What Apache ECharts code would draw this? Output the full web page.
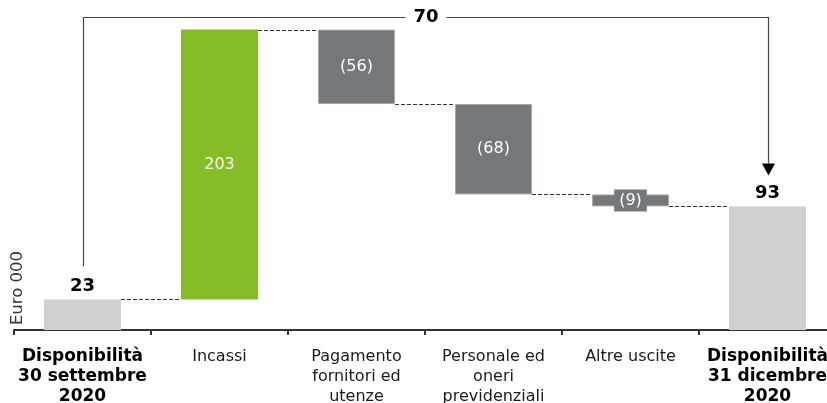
<!DOCTYPE html>
<html>
<head>
<meta charset="utf-8">
<script src="https://cdn.jsdelivr.net/npm/echarts@6/dist/echarts.min.js"></script>
<style>
  html, body { margin: 0; padding: 0; background: #ffffff; }
  #chart { width: 827px; height: 403px; }
</style>
</head>
<body>
<div id="chart"></div>
<script>
// Cash bridge, Euro 000
const categories = [
  'Disponibilità\n30 settembre\n2020',
  'Incassi',
  'Pagamento\nfornitori ed\nutenze',
  'Personale ed\noneri\nprevidenziali',
  'Altre uscite',
  'Disponibilità\n31 dicembre\n2020'
];
// opening balance, movements, closing balance
const steps = [23, 203, -56, -68, -9, 93];
const isTotal = [true, false, false, false, false, true];
const netChange = 70;
const yAxisTitle = 'Euro 000';

const COLOR_TOTAL = '#d0d0ce';
const COLOR_IN = '#86bc25';
const COLOR_OUT = '#75787b';
const FONT = '"DejaVu Sans", Verdana, sans-serif';
const BAR_W = 77;

// invisible base + visible height for every step, plus running levels for connectors
const baseVals = [];
const heightVals = [];
const levels = [];
let running = 0;
steps.forEach((v, i) => {
  if (isTotal[i]) {
    baseVals.push(0);
    heightVals.push(v);
    running = v;
  } else if (v >= 0) {
    baseVals.push(running);
    heightVals.push(v);
    running += v;
  } else {
    running += v;
    baseVals.push(running);
    heightVals.push(-v);
  }
  levels.push(running);
});

const connectorData = levels.slice(0, -1).map((lv, i) => [i, lv]);

const barData = heightVals.map((h, i) => {
  const v = steps[i];
  const item = { value: h, itemStyle: {} };
  if (isTotal[i]) {
    item.itemStyle.color = COLOR_TOTAL;
    item.label = {
      show: true, position: 'top', distance: 4,
      formatter: String(v),
      color: '#000', fontFamily: FONT, fontWeight: 'bold', fontSize: 18
    };
  } else if (v >= 0) {
    item.itemStyle.color = COLOR_IN;
    item.label = {
      show: true, position: 'inside',
      formatter: String(v),
      color: '#fff', fontFamily: FONT, fontSize: 16
    };
  } else {
    item.itemStyle.color = COLOR_OUT;
    item.itemStyle.borderColor = '#a9aaac';
    item.itemStyle.borderWidth = 1;
    item.label = {
      show: true, position: 'inside',
      formatter: '(' + (-v) + ')',
      color: '#fff', fontFamily: FONT, fontSize: 16,
      backgroundColor: COLOR_OUT, padding: [3, 5]
    };
  }
  return item;
});

const chart = echarts.init(document.getElementById('chart'), null, { renderer: 'canvas' });

chart.setOption({
  animation: false,
  backgroundColor: '#ffffff',
  grid: {
    left: 14, top: 11, right: -9, bottom: 73,
    containLabel: false,
    outerBoundsMode: 'none'
  },
  xAxis: {
    type: 'category',
    data: categories,
    boundaryGap: true,
    axisLine: { show: true, lineStyle: { color: '#333', width: 2 } },
    axisTick: { show: true, length: 5, lineStyle: { color: '#333', width: 2 } },
    axisLabel: {
      interval: 0,
      margin: 17,
      fontFamily: FONT,
      fontSize: 16,
      lineHeight: 20,
      color: '#1a1a1a',
      formatter: (val, idx) => isTotal[idx] ? '{b|' + val + '}' : '{n|' + val + '}',
      rich: {
        b: { fontFamily: FONT, fontSize: 17, lineHeight: 20, fontWeight: 'bold', color: '#000' },
        n: { fontFamily: FONT, fontSize: 16, lineHeight: 20, color: '#1a1a1a' }
      }
    }
  },
  yAxis: {
    type: 'value',
    min: 0,
    max: 240,
    show: false
  },
  graphic: [{
    type: 'text',
    x: 18,
    y: 288,
    rotation: Math.PI / 2,
    style: {
      text: yAxisTitle,
      font: '16.5px "DejaVu Sans", Verdana, sans-serif',
      fill: '#333',
      align: 'center',
      verticalAlign: 'middle'
    }
  }],
  series: [
    {
      name: 'base',
      type: 'bar',
      stack: 'wf',
      barWidth: BAR_W,
      silent: true,
      itemStyle: { color: 'rgba(0,0,0,0)' },
      data: baseVals
    },
    {
      name: 'valore',
      type: 'bar',
      stack: 'wf',
      barWidth: BAR_W,
      data: barData
    },
    {
      // dashed connectors between consecutive bars
      name: 'connettori',
      type: 'custom',
      silent: true,
      data: connectorData,
      renderItem: (params, api) => {
        const i = api.value(0);
        const lv = api.value(1);
        const a = api.coord([i, lv]);
        const b = api.coord([i + 1, lv]);
        const y = Math.round(a[1]) + 0.5;
        return {
          type: 'line',
          shape: { x1: a[0] + BAR_W / 2, y1: y, x2: b[0] - BAR_W / 2, y2: y },
          style: { stroke: '#333', lineWidth: 1, lineDash: [4, 2] }
        };
      }
    },
    {
      // bracket with the net change from opening to closing balance
      name: 'variazione',
      type: 'custom',
      silent: true,
      data: [[0, 5, steps[0], steps[steps.length - 1], netChange]],
      renderItem: (params, api) => {
        const p0 = api.coord([api.value(0), api.value(2)]);
        const p1 = api.coord([api.value(1), api.value(3)]);
        const topY = params.coordSys.y + 6.5;
        const x0 = Math.round(p0[0]) + 0.5;
        const x1 = Math.round(p1[0]) + 0.5;
        const leftEnd = p0[1] - 33;
        const tipY = p1[1] - 31;
        const headH = 12;
        const headW = 13;
        const mid = (x0 + x1) / 2;
        const lineStyle = { stroke: '#444', lineWidth: 1.2, fill: null };
        return {
          type: 'group',
          children: [
            {
              type: 'polyline',
              shape: { points: [[x0, leftEnd], [x0, topY], [x1, topY], [x1, tipY - headH]] },
              style: lineStyle
            },
            {
              type: 'polygon',
              shape: { points: [[x1 - headW / 2, tipY - headH], [x1 + headW / 2, tipY - headH], [x1, tipY]] },
              style: { fill: '#000' }
            },
            {
              type: 'text',
              style: {
                x: mid, y: topY,
                text: String(api.value(4)),
                align: 'center', verticalAlign: 'middle',
                font: 'bold 18px ' + FONT,
                fill: '#000',
                backgroundColor: '#fff',
                padding: [0, 8]
              }
            }
          ]
        };
      }
    }
  ]
});
</script>
</body>
</html>
